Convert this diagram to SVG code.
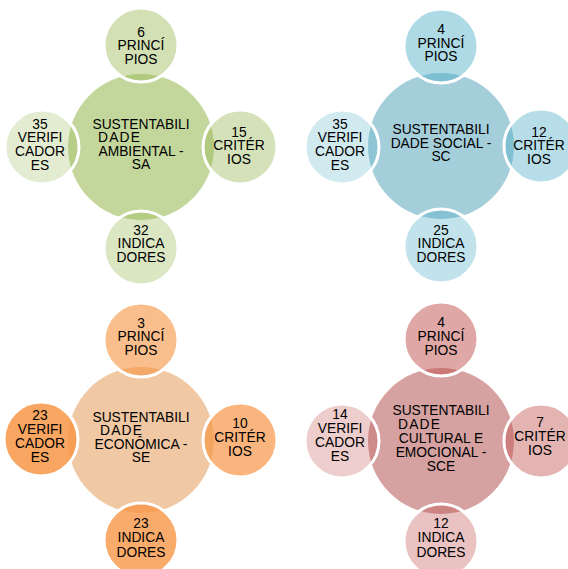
<svg xmlns="http://www.w3.org/2000/svg" width="568" height="569" viewBox="0 0 568 569">
<style>
.bg{fill:#ffffff}
.sat{stroke:#ffffff;stroke-width:3}
text{font-family:"Liberation Sans",Arial,sans-serif;font-size:13.8px;fill:#000000;text-anchor:middle}
.dd{text-anchor:start;letter-spacing:1.2px}
.g{fill:#9bbb59}
.b{fill:#4bacc6}
.o{fill:#f79646}
.p{fill:#c0504d}
</style>
<rect class="bg" x="0" y="0" width="568" height="569"/>
<g id="connectors"/>

<!-- Green: Ambiental -->
<g id="hub-sa"><circle cx="141" cy="147" r="73" fill="#c3d69b"/>
<text x="141" y="128.5">SUSTENTABILI</text><text class="dd" x="98" y="142">DADE</text><text x="141" y="155.5">AMBIENTAL -</text><text x="141" y="169">SA</text></g>
<g id="sa-principios"><circle class="sat g" cx="141" cy="45" r="37" fill-opacity="0.45"/>
<text x="141" y="36.5">6</text><text x="141" y="50">PRINCÍ</text><text x="141" y="63.5">PIOS</text></g>
<g id="sa-criterios"><circle class="sat g" cx="240" cy="147" r="37" fill-opacity="0.42"/>
<text x="239" y="136.5">15</text><text x="239" y="150">CRITÉR</text><text x="239" y="163.5">IOS</text></g>
<g id="sa-indicadores"><circle class="sat g" cx="141" cy="248" r="37" fill-opacity="0.36"/>
<text x="141" y="234.5">32</text><text x="141" y="248">INDICA</text><text x="141" y="261.5">DORES</text></g>
<g id="sa-verificadores"><circle class="sat g" cx="42" cy="147" r="37" fill-opacity="0.28"/>
<text x="40" y="128.8">35</text><text x="40" y="142.3">VERIFI</text><text x="40" y="156.3">CADOR</text><text x="40" y="170">ES</text></g>

<!-- Blue: Social -->
<g id="hub-sc"><circle cx="441" cy="146" r="73" fill="#a5cedb"/>
<text x="441" y="134.3">SUSTENTABILI</text><text x="441" y="147.8">DADE SOCIAL -</text><text x="441" y="161.3">SC</text></g>
<g id="sc-principios"><circle class="sat b" cx="441" cy="46" r="37" fill-opacity="0.45"/>
<text x="441" y="34">4</text><text x="441" y="47.5">PRINCÍ</text><text x="441" y="61">PIOS</text></g>
<g id="sc-criterios"><circle class="sat b" cx="541" cy="146" r="37" fill-opacity="0.4"/>
<text x="539" y="136.5">12</text><text x="539" y="150">CRITÉR</text><text x="539" y="163.5">IOS</text></g>
<g id="sc-indicadores"><circle class="sat b" cx="441" cy="246" r="37" fill-opacity="0.34"/>
<text x="441" y="234.5">25</text><text x="441" y="248">INDICA</text><text x="441" y="261.5">DORES</text></g>
<g id="sc-verificadores"><circle class="sat b" cx="342" cy="147" r="37" fill-opacity="0.26"/>
<text x="340" y="128.8">35</text><text x="340" y="142.3">VERIFI</text><text x="340" y="156.3">CADOR</text><text x="340" y="170">ES</text></g>

<!-- Orange: Economica -->
<g id="hub-se"><circle cx="141" cy="440" r="73" fill="#f0c8a4"/>
<text x="141" y="421.5">SUSTENTABILI</text><text class="dd" x="100" y="435">DADE</text><text x="141" y="448.5">ECONÔMICA -</text><text x="141" y="462">SE</text></g>
<g id="se-principios"><circle class="sat o" cx="141" cy="340" r="37" fill-opacity="0.62"/>
<text x="141" y="327.8">3</text><text x="141" y="341.3">PRINCÍ</text><text x="141" y="354.8">PIOS</text></g>
<g id="se-criterios"><circle class="sat o" cx="240" cy="440" r="37" fill-opacity="0.7"/>
<text x="240" y="427.8">10</text><text x="240" y="441.8">CRITÉR</text><text x="240" y="455.8">IOS</text></g>
<g id="se-indicadores"><circle class="sat o" cx="141" cy="540" r="37" fill-opacity="0.8"/>
<text x="141" y="527.5">23</text><text x="141" y="542">INDICA</text><text x="141" y="556.5">DORES</text></g>
<g id="se-verificadores"><circle class="sat o" cx="41" cy="439" r="37" fill-opacity="0.85"/>
<text x="40" y="419.8">23</text><text x="40" y="433.8">VERIFI</text><text x="40" y="447.8">CADOR</text><text x="40" y="461.8">ES</text></g>

<!-- Pink: Cultural e Emocional -->
<g id="hub-sce"><circle cx="441" cy="441" r="73" fill="#d5a2a1"/>
<text x="441" y="414.8">SUSTENTABILI</text><text class="dd" x="398" y="428.8">DADE</text><text x="441" y="442.8">CULTURAL E</text><text x="441" y="456.8">EMOCIONAL -</text><text x="441" y="470.8">SCE</text></g>
<g id="sce-principios"><circle class="sat p" cx="441" cy="339" r="37" fill-opacity="0.5"/>
<text x="441" y="327">4</text><text x="441" y="341">PRINCÍ</text><text x="441" y="355">PIOS</text></g>
<g id="sce-criterios"><circle class="sat p" cx="541" cy="441" r="37" fill-opacity="0.43"/>
<text x="540" y="427">7</text><text x="540" y="441">CRITÉR</text><text x="540" y="455">IOS</text></g>
<g id="sce-indicadores"><circle class="sat p" cx="441" cy="541" r="37" fill-opacity="0.35"/>
<text x="441" y="527.5">12</text><text x="441" y="542">INDICA</text><text x="441" y="556.5">DORES</text></g>
<g id="sce-verificadores"><circle class="sat p" cx="342" cy="441" r="37" fill-opacity="0.28"/>
<text x="340" y="418.8">14</text><text x="340" y="432.8">VERIFI</text><text x="340" y="446.8">CADOR</text><text x="340" y="460.8">ES</text></g>
</svg>
